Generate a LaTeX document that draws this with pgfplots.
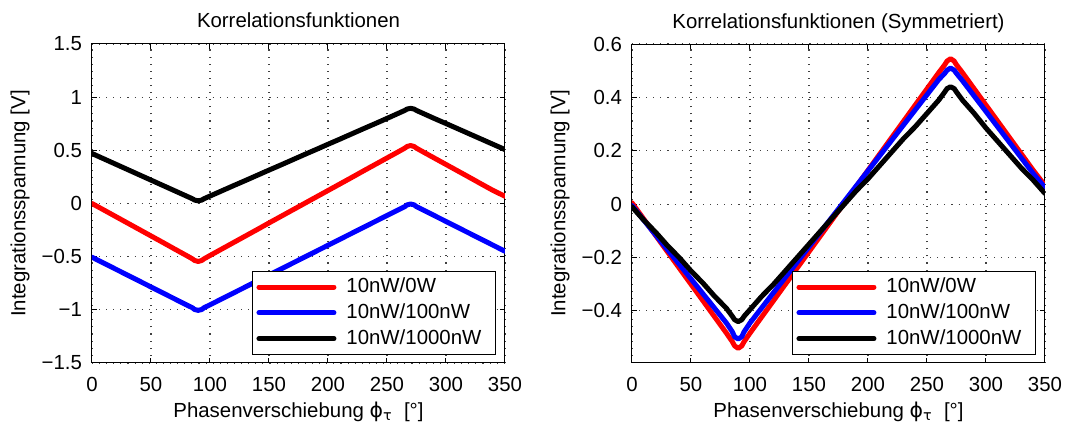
\documentclass[border=0pt]{standalone}
\usepackage{fontspec}
\setmainfont{Liberation Sans}
\newfontfamily\symfont{DejaVu Sans}
\usepackage{pgfplots}
\pgfplotsset{compat=1.18}

\newcommand{\lblfont}{\fontsize{10.2}{12}\selectfont}

% Correlation functions, raw (left) and symmetrised (right)
\pgfplotsset{
  korr/.style={
    scale only axis,
    width=206.5pt, height=159.5pt,
    xmin=0, xmax=350,
    xtick={0,50,...,350},
    axis line style={black, line width=0.5pt},
    tick align=inside,
    major tick length=2.5pt,
    tick style={black, line width=0.5pt},
    grid=major,
    grid style={black!75, line width=0.55pt, dash pattern=on 0.55pt off 3pt},
    tick label style={font=\lblfont},
    xticklabel style={yshift=-3.5pt},
    yticklabel style={xshift=-1.5pt},
    label style={font=\lblfont},
    title style={font=\lblfont, anchor=base, at={(0.5,1)}, yshift=2pt, inner sep=0pt},
    xlabel={Phasenverschiebung {\symfont ϕ}\textsubscript{\symfont τ}\ \ [°]},
    xlabel style={at={(axis description cs:0.5,0)}, anchor=base, yshift=-27.5pt, inner sep=0pt},
    ylabel={Integrationsspannung [V]},
    ylabel style={at={(axis description cs:-0.174,0.5)}, anchor=center, inner sep=0pt},
    legend style={at={(0.978,0.025)}, anchor=south east, draw=black, line width=0.5pt,
      font=\lblfont, inner xsep=2pt, inner ysep=1.5pt, row sep=0pt,
      cells={anchor=west}, nodes={inner ysep=2pt, inner xsep=5pt}},
    legend image code/.code={\draw[##1] (0pt,0pt) -- (37.5pt,0pt);},
    every axis plot/.append style={line width=2.5pt, line join=round, line cap=round},
  }
}

\begin{document}
\begin{tikzpicture}
\useasboundingbox (-46pt,-32pt) rectangle (496pt,181.5pt);

\begin{axis}[korr,
  at={(0pt,0pt)},
  title={Korrelationsfunktionen},
  ymin=-1.5, ymax=1.5,
  ytick={-1.5,-1,...,1.5},
  yticklabels={−1.5,−1,−0.5,0,0.5,1,1.5},
  xticklabels={0,50,100,150,200,250,300,350},
]
\addplot[red] coordinates {
(0,0.000) (10,-0.061) (20,-0.122) (30,-0.183) (40,-0.244) (50,-0.305)
(60,-0.366) (70,-0.428) (80,-0.489) (85,-0.520) (87,-0.536) (90,-0.545) (93,-0.536) (95,-0.520)
(100,-0.489) (110,-0.428) (120,-0.367) (130,-0.306) (140,-0.245) (150,-0.183)
(160,-0.122) (170,-0.061) (180,0.000) (190,0.061) (200,0.122) (210,0.183)
(220,0.244) (230,0.306) (240,0.367) (250,0.428) (260,0.489) (265,0.520) (267,0.536)
(270,0.545) (273,0.536) (275,0.520) (280,0.489) (290,0.428) (300,0.367) (310,0.306)
(320,0.245) (330,0.183) (340,0.122) (350,0.068)
};
\addlegendentry{10nW/0W}
\addplot[blue] coordinates {
(0,-0.505) (10,-0.561) (20,-0.617) (30,-0.673) (40,-0.729) (50,-0.785)
(60,-0.841) (70,-0.897) (80,-0.953) (85,-0.980) (87,-0.997) (90,-1.005) (93,-0.997) (95,-0.980)
(100,-0.953) (110,-0.897) (120,-0.841) (130,-0.785) (140,-0.729) (150,-0.673)
(160,-0.617) (170,-0.561) (180,-0.505) (190,-0.449) (200,-0.393) (210,-0.337)
(220,-0.281) (230,-0.225) (240,-0.169) (250,-0.113) (260,-0.057) (265,-0.030) (267,-0.013)
(270,-0.005) (273,-0.013) (275,-0.030) (280,-0.057) (290,-0.113) (300,-0.169) (310,-0.225)
(320,-0.281) (330,-0.337) (340,-0.393) (350,-0.449)
};
\addlegendentry{10nW/100nW}
\addplot[black] coordinates {
(0,0.470) (10,0.420) (20,0.370) (30,0.320) (40,0.270) (50,0.220)
(60,0.170) (70,0.120) (80,0.070) (85,0.045) (87,0.032) (90,0.025) (93,0.032) (95,0.045)
(100,0.070) (110,0.119) (120,0.168) (130,0.216) (140,0.265) (150,0.314)
(160,0.362) (170,0.411) (180,0.460) (190,0.508) (200,0.557) (210,0.605)
(220,0.654) (230,0.703) (240,0.751) (250,0.800) (260,0.850) (265,0.875) (267,0.888)
(270,0.895) (273,0.888) (275,0.875) (280,0.850) (290,0.800) (300,0.752) (310,0.703)
(320,0.654) (330,0.605) (340,0.556) (350,0.507)
};
\addlegendentry{10nW/1000nW}
\end{axis}

\begin{axis}[korr,
  at={(270pt,0pt)},
  title={Korrelationsfunktionen (Symmetriert)},
  ymin=-0.595, ymax=0.6,
  ytick={-0.4,-0.2,0,0.2,0.4,0.6},
  yticklabels={−0.4,−0.2,0,0.2,0.4,0.6},
  xticklabels={0,50,100,150,200,250,300,350},
]
\addplot[red] coordinates {
(0,0.005) (10,-0.056) (20,-0.117) (30,-0.178) (40,-0.239) (50,-0.300)
(60,-0.361) (70,-0.422) (80,-0.483) (85,-0.515) (87,-0.531) (90,-0.540) (93,-0.531) (95,-0.515)
(100,-0.483) (110,-0.422) (120,-0.361) (130,-0.300) (140,-0.239) (150,-0.178)
(160,-0.117) (170,-0.056) (180,0.005) (190,0.066) (200,0.127) (210,0.188)
(220,0.249) (230,0.310) (240,0.371) (250,0.432) (260,0.493) (265,0.522) (267,0.536)
(270,0.545) (273,0.536) (275,0.522) (280,0.493) (290,0.432) (300,0.371) (310,0.310)
(320,0.249) (330,0.188) (340,0.127) (350,0.070)
};
\addlegendentry{10nW/0W}
\addplot[blue] coordinates {
(0,-0.005) (10,-0.060) (20,-0.115) (30,-0.170) (40,-0.225) (50,-0.280)
(60,-0.335) (70,-0.390) (80,-0.445) (85,-0.478) (87,-0.497) (90,-0.505) (93,-0.497) (95,-0.478)
(100,-0.445) (110,-0.388) (120,-0.331) (130,-0.274) (140,-0.217) (150,-0.160)
(160,-0.103) (170,-0.046) (180,0.011) (190,0.068) (200,0.125) (210,0.182)
(220,0.239) (230,0.296) (240,0.353) (250,0.410) (260,0.467) (265,0.490) (267,0.502)
(270,0.510) (273,0.502) (275,0.490) (280,0.463) (290,0.405) (300,0.347) (310,0.289)
(320,0.231) (330,0.173) (340,0.115) (350,0.062)
};
\addlegendentry{10nW/100nW}
\addplot[black] coordinates {
(0,-0.010) (10,-0.060) (20,-0.105) (30,-0.155) (40,-0.200) (50,-0.250)
(60,-0.295) (70,-0.345) (80,-0.390) (85,-0.420) (87,-0.433) (90,-0.440) (93,-0.433) (95,-0.420)
(100,-0.395) (110,-0.345) (120,-0.300) (130,-0.250) (140,-0.200) (150,-0.150)
(160,-0.100) (170,-0.050) (180,0.000) (190,0.050) (200,0.095) (210,0.145)
(220,0.195) (230,0.245) (240,0.290) (250,0.340) (260,0.390) (265,0.420) (267,0.433)
(270,0.440) (273,0.433) (275,0.420) (280,0.390) (290,0.340) (300,0.285) (310,0.235)
(320,0.185) (330,0.135) (340,0.090) (350,0.040)
};
\addlegendentry{10nW/1000nW}
\end{axis}
\end{tikzpicture}
\end{document}
